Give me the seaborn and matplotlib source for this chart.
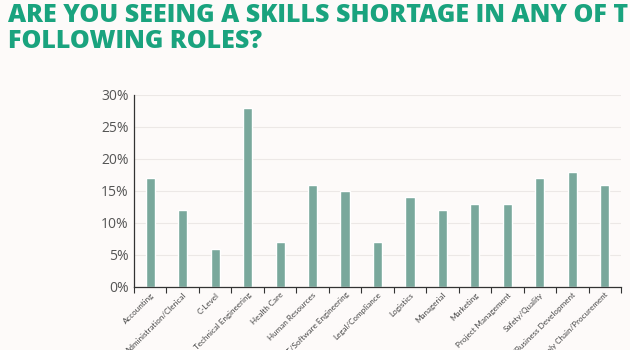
import matplotlib
matplotlib.use("Agg")
import matplotlib.pyplot as plt
import seaborn as sns
import pandas as pd
from matplotlib.ticker import FuncFormatter, FixedLocator

categories = ["Accounting", "Administration/Clerical", "C-Level", "Technical Engineering",
              "Health Care", "Human Resources", "IT/Software Engineering", "Legal/Compliance",
              "Logistics", "Managerial", "Marketing", "Project Management", "Safety/Quality",
              "Sales/Business Development", "Supply Chain/Procurement"]
values = [17, 12, 6, 28, 7, 16, 15, 7, 14, 12, 13, 13, 17, 18, 16]
title = "ARE YOU SEEING A SKILLS SHORTAGE IN ANY OF THE\nFOLLOWING ROLES?"

sns.set_theme(style="white")
plt.rcParams['font.family'] = ['Open Sans', 'DejaVu Sans']

bg = "#fdfaf9"
fig = plt.figure(figsize=(6.3, 3.5), dpi=100, facecolor=bg)
ax = fig.add_axes([0.2127, 0.18, 0.773, 0.549], facecolor=bg)

df = pd.DataFrame({"role": categories, "pct": values})
sns.barplot(data=df, x="role", y="pct", color="#79a89c", saturation=1, width=0.28, ax=ax)

ax.set_ylim(0, 30)
ax.set_xlim(-0.5, len(categories) - 0.5)
ax.set_yticks(range(0, 31, 5))
ax.yaxis.set_major_formatter(FuncFormatter(lambda v, p: f"{int(v)}%"))
ax.grid(axis="y", color="#ece8e6", linewidth=0.8)
ax.set_axisbelow(True)
ax.set_xlabel("")
ax.set_ylabel("")

ax.set_xticks(range(len(categories)))
ax.set_xticklabels(categories, rotation=45, ha="right", rotation_mode="anchor",
                   fontsize=5.8, color="#444444", family=["Lato", "DejaVu Sans"])
ax.tick_params(axis="x", length=0, pad=3)
ax.xaxis.set_minor_locator(FixedLocator([i - 0.5 for i in range(len(categories) + 1)]))
ax.tick_params(axis="x", which="minor", length=4, width=0.8, color="#333333", bottom=True)
ax.tick_params(axis="y", labelsize=10, colors="#555555", length=0, pad=4)

for s in ["top", "right"]:
    ax.spines[s].set_visible(False)
for s in ["left", "bottom"]:
    ax.spines[s].set_color("#333333")
    ax.spines[s].set_linewidth(0.9)

fig.text(0.013, 0.99, title, ha="left", va="top", fontsize=18, fontweight="heavy",
         color="#1aa37e", family=["Open Sans", "DejaVu Sans"], linespacing=1.0)

fig.savefig("out.png", dpi=100, facecolor=bg)
